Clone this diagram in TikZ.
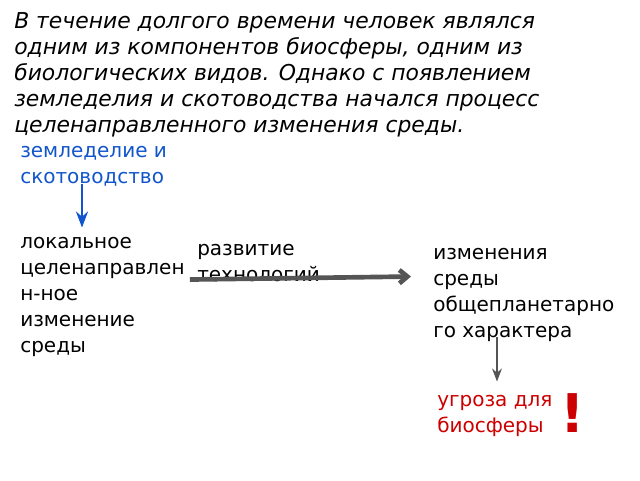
\documentclass[tikz,border=0pt]{standalone}
\usepackage{fontspec}
\setmainfont{DejaVu Sans}
\usetikzlibrary{arrows.meta, calc}

\definecolor{farmblue}{RGB}{17,85,204}
\definecolor{threatred}{RGB}{204,0,0}
\definecolor{arrowgray}{RGB}{85,85,85}

\begin{document}
\begin{tikzpicture}[x=0.75pt, y=-0.75pt, >=Stealth,
  every node/.style={inner sep=0pt, anchor=base west, align=left,
    font=\fontsize{15}{19.5}\selectfont}]

\useasboundingbox (0,0) rectangle (640,480);

% --- Intro Text (Top) ---
% (base anchor = last line)
\node[font=\fontsize{16.4}{19.5}\selectfont\itshape] (intro) at (14,132)
  {В течение долгого времени человек являлся\\
  одним из компонентов биосферы, одним из\\
  биологических видов. Однако с появлением\\
  земледелия и скотоводства начался процесс\\
  целенаправленного изменения среды.};

% --- Chain of Changes ---
\node[text=farmblue] (farming) at (20,183) {земледелие и\\скотоводство};
\node (local) at (20,352) {локальное\\целенаправлен\\н-ное\\изменение\\среды};
\node (techdev) at (197,281) {развитие\\технологий};
\node (global) at (433,337) {изменения\\среды\\общепланетарно\\го характера};
\node[text=threatred] (threat) at (437,432) {угроза для\\биосферы};
\node[text=threatred, font=\fontsize{40}{40}\selectfont\bfseries] (bang) at (560,432) {!};

% --- Arrows ---
\draw[->, farmblue, line width=2pt] ($(farming.south west)+(62,-2)$) -- ($(local.north west)+(62,-9)$);
\draw[-{Straight Barb[length=6pt, width=10pt]}, arrowgray, line width=3.5pt]
  ($(local.north east)+(5,43)$) -- ($(global.north west)+(-22,29)$);
\draw[->, arrowgray, line width=1.5pt] ($(global.south west)+(64,-4)$) -- ($(threat.north west)+(60,-13)$);

\end{tikzpicture}
\end{document}
